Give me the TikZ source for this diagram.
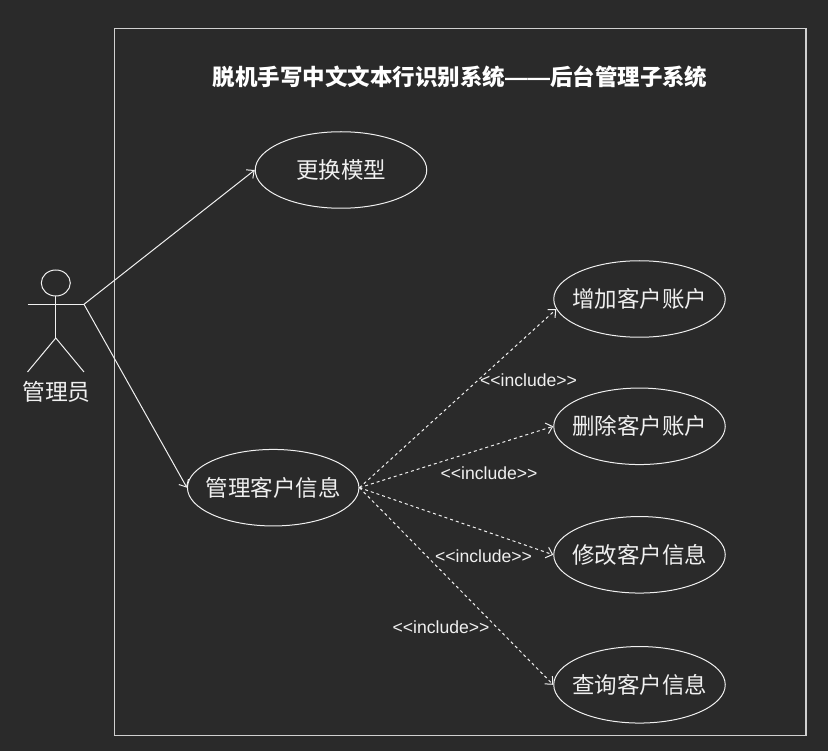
\documentclass[tikz,border=0pt]{standalone}
\usepackage{fontspec}
\setmainfont{Liberation Sans}
\newfontfamily\cjk{Noto Sans CJK SC}
\usetikzlibrary{arrows.meta,shapes.geometric}
\definecolor{bgc}{HTML}{2A2A2A}
\definecolor{fgc}{HTML}{F0F0F0}
\definecolor{framec}{HTML}{D0D0D0}
\tikzset{
  usecase/.style={ellipse,draw=fgc,line width=1pt,minimum width=171.5pt,minimum height=76.5pt,inner sep=0pt,
    label={[text=fgc,inner sep=0pt,font=\cjk\fontsize{22.5}{26}\selectfont]center:#1}},
  link/.style={draw=fgc,line width=1pt,-{Straight Barb[length=6pt,width=11pt]}},
  inc/.style={link,dash pattern=on 3pt off 3pt},
  inclabel/.style={text=fgc,inner sep=0pt,font=\fontsize{17.6}{20}\selectfont},
  limb/.style={draw=fgc,line width=1pt}
}
\begin{document}
\begin{tikzpicture}[x=1pt,y=-1pt]
\useasboundingbox (0,0) rectangle (828,751);
\fill[bgc] (0,0) rectangle (828,751);
\node[draw=framec,line width=1.2pt,minimum width=691.7pt,minimum height=706.7pt,inner sep=0pt,anchor=north west] (frame) at (113.6,28) {};
\node[text=white,inner sep=0pt,font=\cjk\bfseries\fontsize{22.5}{26}\selectfont] (title) at (460,77) {脱机手写中文文本行识别系统{\rmfamily\bfseries ——}后台管理子系统};
% actor
\node[ellipse,draw=fgc,line width=1pt,minimum width=29pt,minimum height=26pt,inner sep=0pt] (head) at (55.8,283) {};
\coordinate (armL) at (27.5,304.3);
\coordinate (armR) at (84,304.3);
\coordinate (hip) at (55.8,338);
\coordinate (footL) at (27.5,372);
\coordinate (footR) at (84,372);
\draw[limb] (head.south) -- (hip);
\draw[limb] (armL) -- (armR);
\draw[limb] (footL) -- (hip) -- (footR);
\node[text=fgc,inner sep=0pt,font=\cjk\fontsize{22.8}{26}\selectfont] (actor) at (56.5,392) {管理员};
% use cases
\node[usecase={更换模型}] (swap) at (341,170) {};
\node[usecase={管理客户信息}] (manage) at (273.2,487.7) {};
\node[usecase={增加客户账户}] (add) at (639.5,299) {};
\node[usecase={删除客户账户}] (del) at (639.5,426.3) {};
\node[usecase={修改客户信息}] (edit) at (639.5,554.8) {};
\node[usecase={查询客户信息}] (query) at (639.5,684.8) {};
% connectors
\draw[link] (armR) -- (swap.west);
\draw[link] (armR) -- (manage.west);
\draw[inc] (manage.east) -- (add.187);
\draw[inc] (manage.east) -- (del.west);
\draw[inc] (manage.east) -- (edit.west);
\draw[inc] (manage.east) -- (query.west);
% labels
\node[inclabel] (l1) at (528.5,380.5) {<{}<include>{}>};
\node[inclabel] (l2) at (489,473.5) {<{}<include>{}>};
\node[inclabel] (l3) at (483.5,556.5) {<{}<include>{}>};
\node[inclabel] (l4) at (441,627.5) {<{}<include>{}>};
\end{tikzpicture}
\end{document}
